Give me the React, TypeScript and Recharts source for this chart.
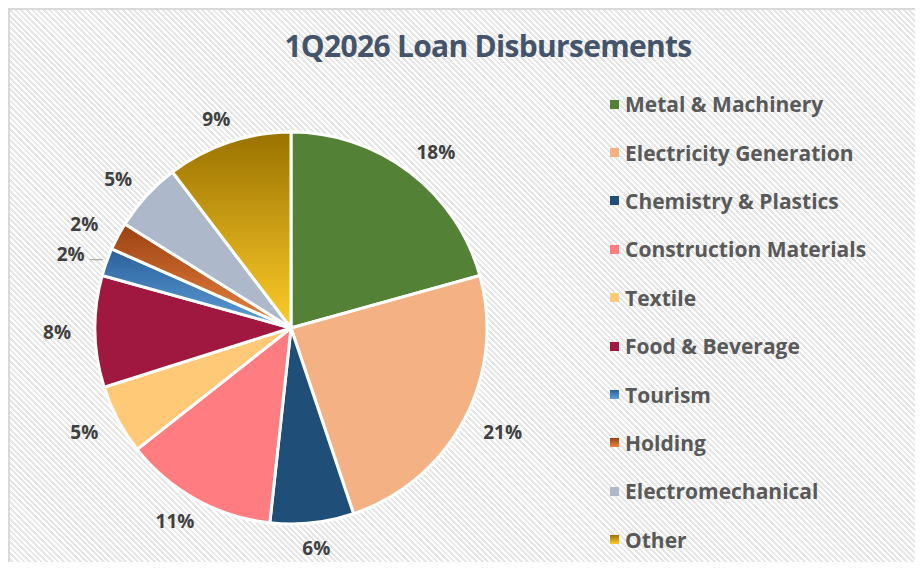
import * as React from "react";
import { Cell, Legend, Pie, PieChart } from "recharts";

const sectors = [
  "Metal & Machinery",
  "Electricity Generation",
  "Chemistry & Plastics",
  "Construction Materials",
  "Textile",
  "Food & Beverage",
  "Tourism",
  "Holding",
  "Electromechanical",
  "Other",
];
const shares = [18, 21, 6, 11, 5, 8, 2, 2, 5, 9];
const fills = [
  "#538135",
  "#F4B183",
  "#1F4E79",
  "#FF7C80",
  "#FFC977",
  "#A0173F",
  "url(#gTourism)",
  "url(#gHolding)",
  "#ADB9CA",
  "url(#gOther)",
];

const data = sectors.map((name, i) => ({ name, value: shares[i] }));

const FONT = "'Open Sans', 'Noto Sans', sans-serif";

function renderLabel(props: any) {
  const { cx, cy, midAngle, outerRadius, value, index } = props;
  const RAD = Math.PI / 180;
  const txt = `${value}%`;
  const halfW = txt.length * 5.5 + 11;
  const r = outerRadius + 16;
  const c = Math.cos(-midAngle * RAD);
  const s = Math.sin(-midAngle * RAD);
  const x = cx + (r + halfW) * c;
  const y = cy + (r + 9) * s;
  return (
    <g>
      {index === 6 && (
        <line x1={x + 19} y1={y + 6} x2={x + 32} y2={y + 6} stroke="#A6A6A6" strokeWidth={1.2} />
      )}
      <text
        x={x}
        y={y}
        fill="#404040"
        textAnchor="middle"
        dominantBaseline="central"
        fontFamily={FONT}
        fontWeight={700}
        fontSize={19}
      >
        {txt}
      </text>
    </g>
  );
}

function LegendBox({ payload }: any) {
  return (
    <div style={{ fontFamily: FONT }}>
      {(payload || []).map((p: any, i: number) => (
        <div
          key={p.value}
          style={{ display: "flex", alignItems: "center", height: 48.4 }}
        >
          <svg width={9} height={9} style={{ marginRight: 6 }}>
            <rect width={9} height={9} fill={fills[i]} />
          </svg>
          <span style={{ fontSize: 21, fontWeight: 700, color: "#595959", whiteSpace: "nowrap" }}>
            {sectors[i]}
          </span>
        </div>
      ))}
    </div>
  );
}

export default function App() {
  return (
    <div
      style={{
        margin: -8,
        width: 923,
        height: 570,
        position: "relative",
        overflow: "hidden",
        background:
          "repeating-linear-gradient(45deg, #ffffff 0px, #ffffff 2px, #e6e6e6 2px, #e6e6e6 4px)",
      }}
    >
      <div
        style={{
          position: "absolute",
          left: 8,
          top: 8,
          width: 930,
          height: 556,
          border: "2px solid #d9d9d9",
        }}
      />
      <div
        style={{
          position: "absolute",
          left: 0,
          width: 976,
          top: 25,
          textAlign: "center",
          fontFamily: FONT,
          fontWeight: 700,
          fontSize: 30,
          letterSpacing: -0.7,
          color: "#44546A",
        }}
      >
        1Q2026 Loan Disbursements
      </div>
      <div style={{ position: "absolute", left: 0, top: 0 }}>
        <PieChart width={923} height={570} margin={{ top: 0, right: 0, bottom: 0, left: 0 }}>
          <defs>
            <linearGradient id="gTourism" x1="0" y1="0" x2="0" y2="1">
              <stop offset="0%" stopColor="#2A6099" />
              <stop offset="100%" stopColor="#5FA0DC" />
            </linearGradient>
            <linearGradient id="gHolding" x1="0" y1="0" x2="0" y2="1">
              <stop offset="0%" stopColor="#9A4112" />
              <stop offset="100%" stopColor="#EB843F" />
            </linearGradient>
            <linearGradient id="gOther" x1="0" y1="0" x2="0" y2="1">
              <stop offset="0%" stopColor="#9A7200" />
              <stop offset="100%" stopColor="#FFCC2A" />
            </linearGradient>
          </defs>
          <Pie
            data={data}
            dataKey="value"
            nameKey="name"
            cx={291}
            cy={328}
            outerRadius={196}
            startAngle={90}
            endAngle={-270}
            stroke="#ffffff"
            strokeWidth={3}
            label={renderLabel}
            labelLine={false}
            isAnimationActive={false}
          >
            {data.map((d, i) => (
              <Cell key={d.name} fill={fills[i]} />
            ))}
          </Pie>
          <Legend
            layout="vertical"
            align="right"
            verticalAlign="top"
            content={<LegendBox />}
            wrapperStyle={{ position: "absolute", left: 610, top: 80, width: 310 }}
          />
        </PieChart>
      </div>
    </div>
  );
}
